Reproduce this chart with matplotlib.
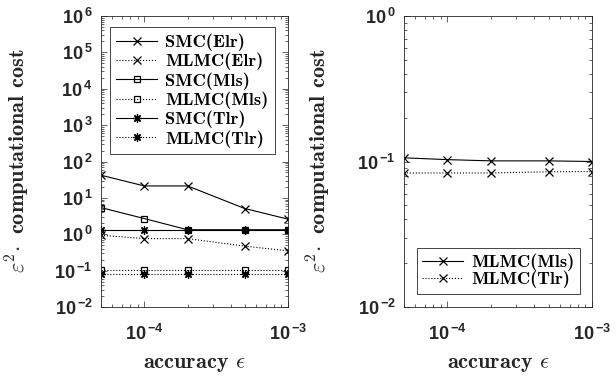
import matplotlib.pyplot as plt
import numpy as np
from matplotlib.ticker import LogLocator, FuncFormatter, NullFormatter

plt.rcParams['mathtext.fontset'] = 'custom'
plt.rcParams['mathtext.rm'] = 'Liberation Sans'
plt.rcParams['mathtext.bf'] = 'Liberation Sans:bold'
plt.rcParams['axes.linewidth'] = 0.6

# accuracy levels and normalised costs
eps = [5e-5, 1e-4, 2e-4, 5e-4, 1e-3]
smc_elr = [42, 21.3, 21.3, 5.1, 2.6]
mlmc_elr = [0.94, 0.76, 0.76, 0.47, 0.35]
smc_mls = [5.4, 2.7, 1.33, 1.33, 1.33]
mlmc_mls = [0.107, 0.107, 0.107, 0.107, 0.107]
smc_tlr = [1.33, 1.33, 1.33, 1.33, 1.33]
mlmc_tlr = [0.079, 0.079, 0.079, 0.079, 0.079]

# zoomed-in MLMC runs
mlmc_mls_z = [0.106, 0.103, 0.101, 0.101, 0.100]
mlmc_tlr_z = [0.0834, 0.0834, 0.0834, 0.085, 0.0853]

gray = '#262626'
lab = dict(fontfamily='cmb10', fontsize=16, math_fontfamily='cm', color=gray)
star = (8, 2, 0)  # asterisk made of four strokes


def sci(v, pos):
    e = int(round(np.log10(v)))
    return r'$\mathbf{10}^{\,\mathbf{%d}}$' % e


def style(ax, ymin, ymax):
    ax.set_xscale('log')
    ax.set_yscale('log')
    ax.set_xlim(5e-5, 1e-3)
    ax.set_ylim(ymin, ymax)
    ax.xaxis.set_major_locator(LogLocator(base=10, numticks=10))
    ax.yaxis.set_major_locator(LogLocator(base=10, numticks=20))
    ax.xaxis.set_minor_locator(LogLocator(base=10, subs=np.arange(2, 10), numticks=10))
    ax.yaxis.set_minor_locator(LogLocator(base=10, subs=np.arange(2, 10), numticks=20))
    ax.xaxis.set_major_formatter(FuncFormatter(sci))
    ax.yaxis.set_major_formatter(FuncFormatter(sci))
    ax.xaxis.set_minor_formatter(NullFormatter())
    ax.yaxis.set_minor_formatter(NullFormatter())
    ax.tick_params(which='both', direction='in', top=True, right=True,
                   colors=gray, labelsize=13, width=0.5)
    ax.tick_params(which='major', length=4, pad=6)
    ax.tick_params(axis='x', which='major', pad=12)
    ax.tick_params(which='minor', length=2)
    for s in ax.spines.values():
        s.set_color(gray)
    ax.set_xlabel(r'accuracy $\epsilon$', **lab)
    ax.set_ylabel(r'$\varepsilon^2\!\cdot$ computational cost', **lab)


fig = plt.figure(figsize=(6.16, 3.81), dpi=100)
ax1 = fig.add_axes([101 / 616, 74 / 381, 187 / 616, 291 / 381])
ax2 = fig.add_axes([404 / 616, 74 / 381, 188 / 616, 291 / 381])

kw = dict(color='k', lw=0.8, ms=6, mfc='none', mew=0.9)
ax1.plot(eps, smc_elr, '-x', label='SMC(Elr)', **kw)
ax1.plot(eps, mlmc_elr, ':x', label='MLMC(Elr)', **kw)
ax1.plot(eps, smc_mls, '-s', label='SMC(Mls)', **dict(kw, ms=5))
ax1.plot(eps, mlmc_mls, ':s', label='MLMC(Mls)', **dict(kw, ms=5))
ax1.plot(eps, smc_tlr, '-', marker=star, label='SMC(Tlr)', **kw)
ax1.plot(eps, mlmc_tlr, ':', marker=star, label='MLMC(Tlr)', **kw)
style(ax1, 1e-2, 1e6)

ax2.plot(eps, mlmc_mls_z, '-x', label='MLMC(Mls)', **kw)
ax2.plot(eps, mlmc_tlr_z, ':x', label='MLMC(Tlr)', **kw)
style(ax2, 1e-2, 1e0)

for ax in (ax1, ax2):
    ax.xaxis.set_label_coords(0.5, -0.165)
ax1.yaxis.set_label_coords(-0.369, 0.503)
ax2.yaxis.set_label_coords(-0.378, 0.503)

legkw = dict(fancybox=False, edgecolor=gray, framealpha=1,
             handlelength=2.2, handletextpad=0.45, borderaxespad=0,
             loc='upper left', prop={'family': 'cmb10', 'size': 13.2})
l1 = ax1.legend(bbox_to_anchor=(0.048, 0.962),
                borderpad=0.35, labelspacing=0.1, **legkw)
l2 = ax2.legend(bbox_to_anchor=(0.069, 0.203),
                borderpad=0.3, labelspacing=-0.02, **legkw)
for l in (l1, l2):
    l.get_frame().set_linewidth(0.6)

fig.savefig('out.png', dpi=100)
